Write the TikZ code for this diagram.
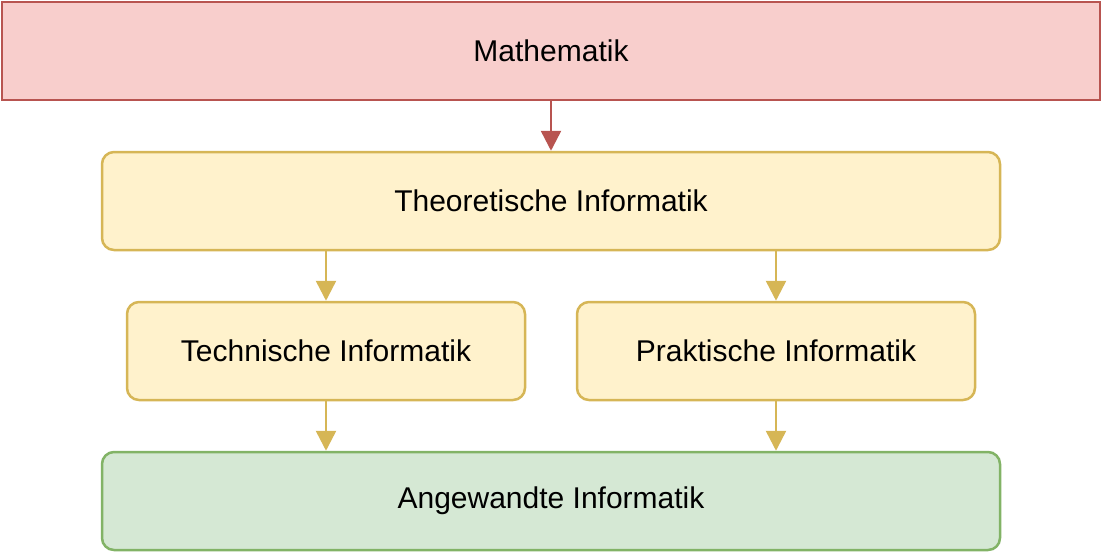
\documentclass[tikz,border=0pt]{standalone}
\usepackage{fontspec}
\setmainfont{Liberation Sans}
\usetikzlibrary{arrows.meta}
\definecolor{redf}{HTML}{F8CECC}\definecolor{redd}{HTML}{B85450}
\definecolor{yelf}{HTML}{FFF2CC}\definecolor{yeld}{HTML}{D6B656}
\definecolor{grnf}{HTML}{D5E8D4}\definecolor{grnd}{HTML}{82B366}
\begin{document}
\begin{tikzpicture}[x=1pt,y=-1pt,
  box/.style={line width=2.5pt,minimum height=98pt,inner sep=0pt,font=\fontsize{30}{34}\selectfont},
  ybox/.style={box,fill=yelf,draw=yeld,rounded corners=12pt},
  arr/.style={line width=2.5pt,-{Triangle[length=20pt,width=20pt]}}]
\useasboundingbox (0,0) rectangle (1103,555);
\node[box,fill=redf,draw=redd,minimum width=1098pt] (m) at (551,51) {Mathematik};
\node[ybox,minimum width=898pt] (t) at (551,201) {Theoretische Informatik};
\node[ybox,minimum width=398pt] (te) at (326,351) {Technische Informatik};
\node[ybox,minimum width=398pt] (p) at (776,351) {Praktische Informatik};
\node[box,fill=grnf,draw=grnd,rounded corners=12pt,minimum width=898pt] (a) at (551,501) {Angewandte Informatik};
\draw[arr,redd] (m.south) -- (t.north);
\draw[arr,yeld] (t.south -| te.north) -- (te.north);
\draw[arr,yeld] (t.south -| p.north) -- (p.north);
\draw[arr,yeld] (te.south) -- (a.north -| te.south);
\draw[arr,yeld] (p.south) -- (a.north -| p.south);
\end{tikzpicture}
\end{document}
